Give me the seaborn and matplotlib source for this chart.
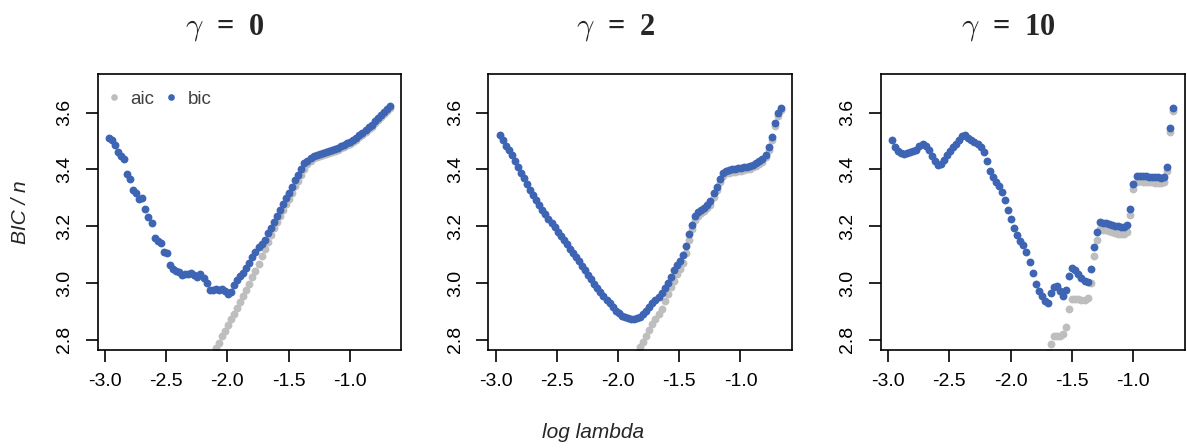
import numpy as np
import pandas as pd
import matplotlib
matplotlib.use("Agg")
import matplotlib.pyplot as plt
from matplotlib.lines import Line2D
import seaborn as sns

# ---------------- data ----------------
log_lambda = [
    -2.970, -2.945, -2.920, -2.895, -2.870, -2.845, -2.820, -2.795, -2.770, -2.745,
    -2.720, -2.695, -2.670, -2.645, -2.620, -2.595, -2.570, -2.545, -2.520, -2.495,
    -2.470, -2.445, -2.420, -2.395, -2.370, -2.345, -2.320, -2.295, -2.270, -2.245,
    -2.220, -2.195, -2.170, -2.145, -2.120, -2.095, -2.070, -2.045, -2.020, -1.995,
    -1.970, -1.945, -1.920, -1.895, -1.870, -1.845, -1.820, -1.795, -1.770, -1.745,
    -1.720, -1.695, -1.670, -1.645, -1.620, -1.595, -1.570, -1.545, -1.520, -1.495,
    -1.470, -1.445, -1.420, -1.395, -1.370, -1.345, -1.320, -1.295, -1.270, -1.245,
    -1.220, -1.195, -1.170, -1.145, -1.120, -1.095, -1.070, -1.045, -1.020, -0.995,
    -0.970, -0.945, -0.920, -0.895, -0.870, -0.845, -0.820, -0.795, -0.770, -0.745,
    -0.720, -0.695, -0.670]

bic_g0 = [
    3.512, 3.505, 3.487, 3.462, 3.446, 3.436, 3.385, 3.366, 3.327, 3.316,
    3.296, 3.300, 3.262, 3.232, 3.212, 3.160, 3.148, 3.140, 3.108, 3.106,
    3.062, 3.048, 3.043, 3.038, 3.027, 3.031, 3.030, 3.034, 3.028, 3.020,
    3.031, 3.019, 3.000, 2.976, 2.974, 2.979, 2.977, 2.978, 2.972, 2.960,
    2.970, 2.994, 3.010, 3.024, 3.036, 3.054, 3.070, 3.092, 3.110, 3.125,
    3.139, 3.152, 3.176, 3.194, 3.214, 3.236, 3.256, 3.279, 3.299, 3.316,
    3.337, 3.361, 3.379, 3.400, 3.422, 3.430, 3.440, 3.448, 3.450, 3.453,
    3.457, 3.460, 3.464, 3.468, 3.472, 3.476, 3.481, 3.486, 3.492, 3.498,
    3.505, 3.512, 3.520, 3.529, 3.538, 3.548, 3.558, 3.569, 3.580, 3.591,
    3.602, 3.612, 3.622]
aic_g0 = [
    2.060, 2.080, 2.100, 2.120, 2.140, 2.160, 2.180, 2.200, 2.220, 2.240,
    2.260, 2.280, 2.300, 2.320, 2.340, 2.360, 2.380, 2.400, 2.420, 2.440,
    2.460, 2.480, 2.500, 2.520, 2.540, 2.560, 2.580, 2.600, 2.620, 2.640,
    2.660, 2.680, 2.700, 2.720, 2.745, 2.770, 2.790, 2.812, 2.832, 2.852,
    2.872, 2.892, 2.912, 2.933, 2.955, 2.977, 2.998, 3.020, 3.042, 3.068,
    3.095, 3.120, 3.145, 3.170, 3.192, 3.214, 3.235, 3.258, 3.278, 3.296,
    3.317, 3.340, 3.360, 3.381, 3.402, 3.418, 3.430, 3.440, 3.443, 3.446,
    3.450, 3.453, 3.457, 3.461, 3.465, 3.469, 3.474, 3.479, 3.485, 3.491,
    3.498, 3.505, 3.513, 3.522, 3.531, 3.541, 3.551, 3.562, 3.573, 3.584,
    3.595, 3.605, 3.615]

bic_g2 = [
    3.522, 3.503, 3.484, 3.467, 3.450, 3.430, 3.408, 3.388, 3.368, 3.347,
    3.328, 3.310, 3.293, 3.275, 3.258, 3.242, 3.226, 3.210, 3.196, 3.181,
    3.166, 3.151, 3.136, 3.121, 3.106, 3.091, 3.076, 3.060, 3.044, 3.029,
    3.013, 2.998, 2.983, 2.969, 2.955, 2.941, 2.928, 2.915, 2.903, 2.893,
    2.885, 2.879, 2.875, 2.873, 2.873, 2.876, 2.881, 2.890, 2.903, 2.916,
    2.930, 2.940, 2.950, 2.963, 2.981, 3.000, 3.022, 3.044, 3.062, 3.079,
    3.100, 3.130, 3.172, 3.205, 3.236, 3.249, 3.257, 3.265, 3.275, 3.288,
    3.316, 3.338, 3.365, 3.389, 3.396, 3.399, 3.401, 3.402, 3.404, 3.406,
    3.408, 3.410, 3.413, 3.417, 3.422, 3.428, 3.437, 3.452, 3.480, 3.513,
    3.563, 3.598, 3.618]
aic_g2 = [
    1.853, 1.873, 1.893, 1.913, 1.933, 1.953, 1.973, 1.993, 2.013, 2.033,
    2.053, 2.073, 2.093, 2.113, 2.133, 2.153, 2.173, 2.193, 2.213, 2.233,
    2.253, 2.273, 2.293, 2.313, 2.333, 2.353, 2.373, 2.393, 2.413, 2.433,
    2.453, 2.473, 2.493, 2.513, 2.533, 2.553, 2.573, 2.593, 2.613, 2.633,
    2.653, 2.673, 2.693, 2.713, 2.733, 2.753, 2.773, 2.792, 2.812, 2.835,
    2.855, 2.873, 2.890, 2.910, 2.935, 2.962, 2.985, 3.008, 3.030, 3.050,
    3.072, 3.105, 3.150, 3.190, 3.222, 3.237, 3.245, 3.253, 3.263, 3.276,
    3.304, 3.327, 3.354, 3.378, 3.386, 3.389, 3.391, 3.392, 3.394, 3.396,
    3.398, 3.400, 3.403, 3.407, 3.412, 3.418, 3.427, 3.442, 3.470, 3.503,
    3.553, 3.589, 3.610]

bic_g10 = [
    3.504, 3.480, 3.465, 3.459, 3.456, 3.457, 3.462, 3.466, 3.470, 3.482,
    3.489, 3.484, 3.468, 3.446, 3.428, 3.417, 3.420, 3.432, 3.450, 3.466,
    3.478, 3.490, 3.505, 3.518, 3.520, 3.511, 3.503, 3.497, 3.490, 3.480,
    3.460, 3.430, 3.396, 3.373, 3.355, 3.340, 3.321, 3.291, 3.256, 3.224,
    3.192, 3.168, 3.148, 3.133, 3.108, 3.074, 3.035, 2.995, 2.972, 2.955,
    2.938, 2.930, 2.965, 2.985, 2.988, 2.972, 2.955, 2.975, 3.025, 3.052,
    3.046, 3.032, 3.017, 3.007, 3.002, 3.050, 3.125, 3.180, 3.216, 3.213,
    3.210, 3.207, 3.204, 3.201, 3.199, 3.198, 3.198, 3.205, 3.262, 3.350,
    3.377, 3.378, 3.377, 3.376, 3.375, 3.374, 3.373, 3.372, 3.371, 3.374,
    3.410, 3.545, 3.618]
aic_g10 = [
    2.000, 2.015, 2.030, 2.045, 2.060, 2.075, 2.090, 2.105, 2.120, 2.135,
    2.150, 2.165, 2.180, 2.195, 2.210, 2.225, 2.240, 2.255, 2.270, 2.285,
    2.300, 2.315, 2.330, 2.345, 2.360, 2.375, 2.390, 2.405, 2.420, 2.435,
    2.450, 2.465, 2.480, 2.495, 2.510, 2.525, 2.540, 2.555, 2.570, 2.585,
    2.600, 2.615, 2.630, 2.645, 2.660, 2.675, 2.690, 2.705, 2.720, 2.730,
    2.740, 2.755, 2.785, 2.812, 2.815, 2.815, 2.822, 2.845, 2.907, 2.942,
    2.944, 2.942, 2.941, 2.941, 2.948, 3.000, 3.095, 3.150, 3.190, 3.188,
    3.185, 3.182, 3.179, 3.176, 3.174, 3.173, 3.173, 3.180, 3.238, 3.330,
    3.357, 3.358, 3.357, 3.356, 3.355, 3.354, 3.353, 3.352, 3.351, 3.356,
    3.395, 3.530, 3.607]

gamma_values = ["0", "2", "10"]
x_ticks = [-3.0, -2.5, -2.0, -1.5, -1.0]
y_ticks = [2.8, 3.0, 3.2, 3.4, 3.6]
series_names = ["aic", "bic"]

# ---------------- style ----------------
sns.set_theme(style="white")
plt.rcParams["font.family"] = ["Liberation Sans", "DejaVu Sans"]
plt.rcParams["mathtext.fontset"] = "cm"
plt.rcParams["axes.unicode_minus"] = False

GREY = "#BEBEBE"
BLUE = "#3E64B4"
W, H = 1187, 448
fig = plt.figure(figsize=(W / 100, H / 100), dpi=100)

panels = [(bic_g0, aic_g0), (bic_g2, aic_g2), (bic_g10, aic_g10)]
lefts = [97.5, 488.3, 880.7]
pw, top, bottom = 304.0, 74.0, 350.0

for k, ((bic, aic), left) in enumerate(zip(panels, lefts)):
    ax = fig.add_axes([left / W, 1 - bottom / H, pw / W, (bottom - top) / H])
    df = pd.DataFrame({"x": log_lambda, "aic": aic, "bic": bic})
    sns.scatterplot(data=df, x="x", y="aic", color=GREY, s=32, linewidth=0,
                    ax=ax, legend=False, zorder=2)
    sns.scatterplot(data=df, x="x", y="bic", color=BLUE, s=32, linewidth=0,
                    ax=ax, legend=False, zorder=3)
    ax.set_xlim(-3.062, -0.576)
    ax.set_ylim(2.764, 3.736)
    ax.set_xticks(x_ticks)
    ax.set_xticklabels([f"{t:.1f}" for t in x_ticks])
    ax.set_yticks(y_ticks)
    ax.set_yticklabels([f"{t:.1f}" for t in y_ticks], rotation=90, va="center")
    ax.set_xlabel("")
    ax.set_ylabel("")
    for sp in ax.spines.values():
        sp.set_visible(True)
        sp.set_color("black")
        sp.set_linewidth(1.2)
    ax.tick_params(axis="both", direction="out", length=8.5, width=1.2,
                   color="black", labelsize=14, labelcolor="black")
    ax.tick_params(axis="x", pad=8, bottom=True)
    ax.tick_params(axis="y", pad=9, left=True)
    ax.grid(False)

    cx = (left + pw / 2 - 24.5) / W
    fig.text(cx, 1 - 34.3 / H, r"$\gamma$  =  " + gamma_values[k], ha="center",
             va="baseline", fontsize=22, family="Liberation Serif",
             weight="bold")

    if k == 0:
        handles = [Line2D([], [], marker="o", linestyle="none", markersize=4.8,
                          markerfacecolor=c, markeredgewidth=0)
                   for c in (GREY, BLUE)]
        ax.legend(handles, series_names, loc="upper left",
                  bbox_to_anchor=(0.028, 0.94), ncol=2, frameon=False,
                  fontsize=13.5, handlelength=0.8, handletextpad=0.5,
                  columnspacing=0.5, borderpad=0, borderaxespad=0,
                  labelcolor="#404040")

fig.text(20 / W, 1 - 212 / H, "BIC / n", rotation=90, ha="center", va="center",
         fontsize=15, style="italic")
fig.text(593.5 / W, 1 - 432 / H, "log lambda", ha="center", va="center",
         fontsize=15, style="italic")

fig.savefig("out.png", dpi=100)
